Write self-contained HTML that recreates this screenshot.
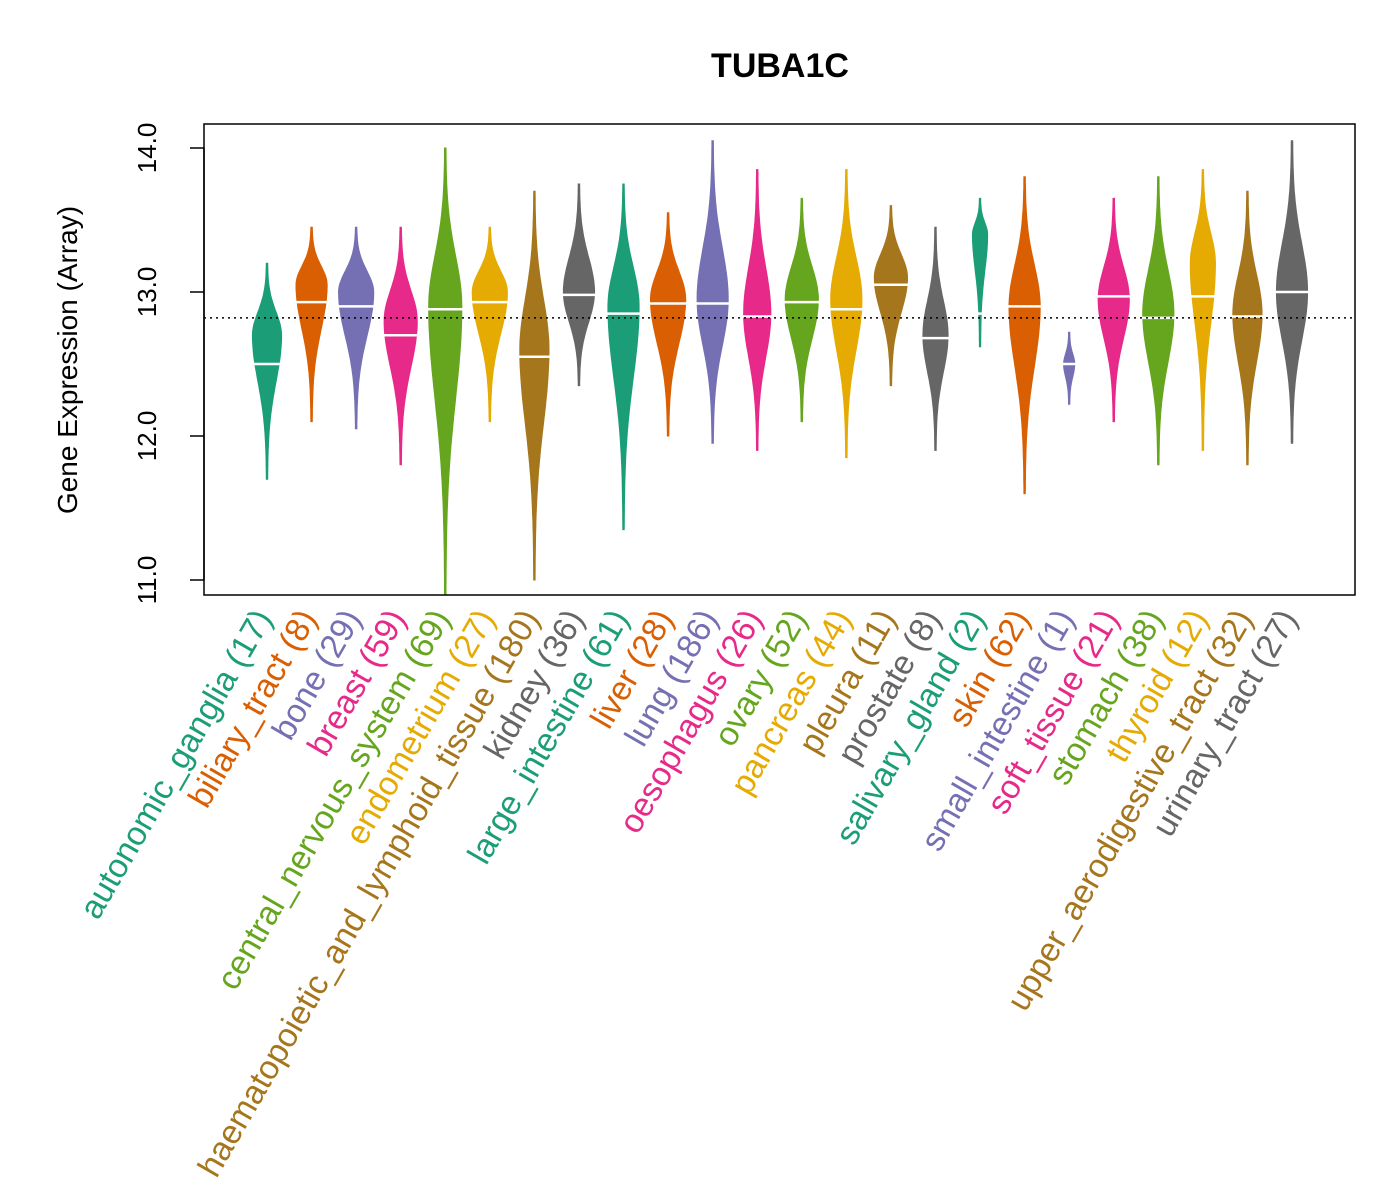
<!DOCTYPE html>
<html><head><meta charset="utf-8"><style>body{margin:0;background:#fff}svg{display:block}text{font-family:"Liberation Sans",Arial,sans-serif}</style></head>
<body>
<svg id="chart" width="1400" height="1200" viewBox="0 0 1400 1200">
<text x="780" y="77" font-size="34" font-weight="bold" text-anchor="middle">TUBA1C</text>
<text transform="translate(77,360) rotate(-90)" font-size="28" text-anchor="middle">Gene Expression (Array)</text>
<g id="axis"></g><g id="beans"></g><g id="labels"></g>
<rect x="204" y="124" width="1151" height="471" fill="none" stroke="#000" stroke-width="1.5"/>
</svg>
<script>
const categories=["autonomic_ganglia (17)","biliary_tract (8)","bone (29)","breast (59)","central_nervous_system (69)","endometrium (27)","haematopoietic_and_lymphoid_tissue (180)","kidney (36)","large_intestine (61)","liver (28)","lung (186)","oesophagus (26)","ovary (52)","pancreas (44)","pleura (11)","prostate (8)","salivary_gland (2)","skin (62)","small_intestine (1)","soft_tissue (21)","stomach (38)","thyroid (12)","upper_aerodigestive_tract (32)","urinary_tract (27)"];
const mins=[11.7,12.1,12.05,11.8,10.9,12.1,11.0,12.35,11.35,12.0,11.95,11.9,12.1,11.85,12.35,11.9,12.62,11.6,12.22,12.1,11.8,11.9,11.8,11.95];
const maxs=[13.2,13.45,13.45,13.45,14.0,13.45,13.7,13.75,13.75,13.55,14.05,13.85,13.65,13.85,13.6,13.45,13.65,13.8,12.72,13.65,13.8,13.85,13.7,14.05];
const medians=[12.5,12.93,12.9,12.7,12.88,12.93,12.55,12.98,12.85,12.92,12.92,12.83,12.93,12.88,13.05,12.68,12.85,12.9,12.5,12.97,12.82,12.97,12.83,13.0];
const modes=[12.7,13.05,13.0,12.8,12.9,13.0,12.6,13.0,12.9,12.95,12.95,12.85,12.95,12.95,13.1,12.7,13.4,12.9,12.5,12.95,12.85,13.2,12.85,13.0];
const widths=[14,15,17,16,16,17,14,15,15,17,15,13,16,15,16,12,7,15,5,15,15,12,14,15];
const overall=12.82;
const yTicks=[11.0,12.0,13.0,14.0];
const colors=["#1B9E77","#D95F02","#7570B3","#E7298A","#66A61E","#E6AB02","#A6761D","#666666"];
const NS="http://www.w3.org/2000/svg";
const y=v=>148+(14-v)*144;
const x=i=>267+i*(1292-267)/(categories.length-1);
const ax=document.getElementById('axis'),bg=document.getElementById('beans'),lg=document.getElementById('labels');
function mk(t,a,p){const e=document.createElementNS(NS,t);for(const k in a)e.setAttribute(k,a[k]);p.appendChild(e);return e;}
yTicks.forEach(t=>{
 const l=mk('line',{x1:190,x2:204,y1:y(t),y2:y(t),stroke:'#000','stroke-width':1.5},ax);
 
 
 const tx=mk('text',{transform:`translate(156,${y(t)}) rotate(-90)`,'font-size':26,'text-anchor':'middle'},ax);
 tx.textContent=t.toFixed(1);
 
 
});
const axl=mk('line',{x1:204,x2:204,y1:y(yTicks[0]),y2:y(yTicks[3]),stroke:'#000','stroke-width':1.5},ax);


categories.forEach((c,i)=>{
 const cx=x(i),col=colors[i%8],mo=modes[i];
 const su=(maxs[i]-mo)/2.2||0.1,sd=(mo-mins[i])/2.2||0.1;
 const L=[],R=[];
 for(let k=0;k<=60;k++){const v=mins[i]+(maxs[i]-mins[i])*k/60;const s=v>mo?su:sd;const w=widths[i]*Math.exp(-Math.pow((v-mo)/s,2))+0.6;L.push([cx-w,y(v)]);R.push([cx+w,y(v)]);}
 const pts=L.concat(R.reverse()).map(p=>p[0].toFixed(1)+','+p[1].toFixed(1)).join(' ');
 const pg=mk('polygon',{points:pts,fill:col,stroke:col,'stroke-width':1},bg);
 
 
 const sm=medians[i]>mo?su:sd;const mw=widths[i]*Math.exp(-Math.pow((medians[i]-mo)/sm,2))+2;
 const ml=mk('line',{x1:cx-mw,x2:cx+mw,y1:y(medians[i]),y2:y(medians[i]),stroke:'#fff','stroke-width':2.5},bg);
 
 
 const t=mk('text',{transform:`translate(${cx+6},618) rotate(-60)`,'font-size':33.5,'text-anchor':'end',fill:col},lg);
 t.textContent=c;
 
 
});
const ol=mk('line',{x1:204,x2:1355,y1:y(overall),y2:y(overall),stroke:'#000','stroke-width':1.5,'stroke-dasharray':'2,4'},bg);


</script>
</body></html>
